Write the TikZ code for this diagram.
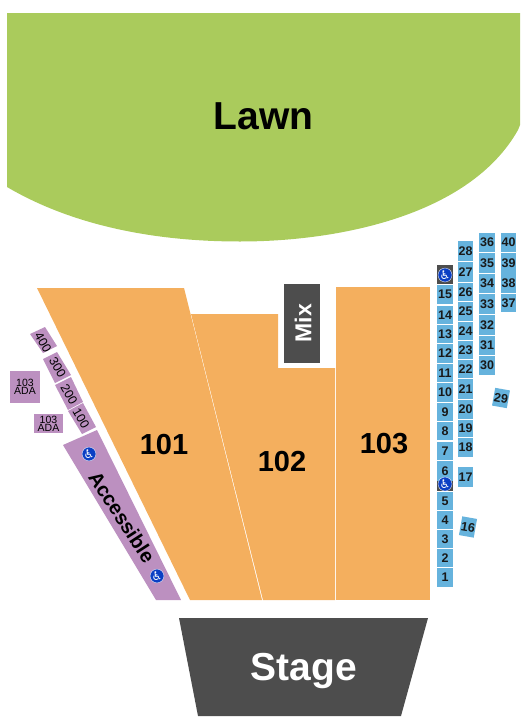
\documentclass[tikz,border=0pt]{standalone}
\usepackage{fontspec}
\setmainfont{Liberation Sans}
\newfontfamily\symfont{DejaVu Sans}
\definecolor{lawn}{HTML}{AACB5C}
\definecolor{sect}{HTML}{F4AF5E}
\definecolor{seatc}{HTML}{66B3DD}
\definecolor{purp}{HTML}{BC90C0}
\definecolor{dark}{HTML}{4D4D4D}
\definecolor{wblue}{HTML}{0B3FC4}
\tikzset{
  seatbox/.style={fill=seatc,inner sep=0pt,font=\bfseries\fontsize{12.5}{12.5}\selectfont,text=black!90},
  seclabel/.style={inner sep=0pt,font=\bfseries\fontsize{29}{29}\selectfont,text=black},
  purplabel/.style={inner sep=0pt,font=\fontsize{12.5}{12.5}\selectfont,text=black},
  adabox/.style={fill=purp,inner sep=0pt,align=center,font=\fontsize{10.5}{8}\selectfont},
  wicon/.style={circle,fill=wblue,draw=white,line width=0.3pt,inner sep=0pt,minimum size=#1,text=white,font=\symfont\fontsize{12}{12}\selectfont},
}
\newcommand{\wchair}{\symbol{"267F}}
\begin{document}
\begin{tikzpicture}[x=1pt,y=-1pt]
\useasboundingbox (0,0) rectangle (525,728);
% Lawn
\fill[lawn] (7,13) -- (520,13) -- (520,125) -- (518,130) .. controls (470,215) and (340,241.5) .. (240,241.5) .. controls (150,241.5) and (70,224) .. (7,187) -- cycle;
\node[inner sep=0pt,font=\bfseries\fontsize{39}{39}\selectfont] (lawnlabel) at (263.5,116.5) {Lawn};
% Sections
\fill[sect] (37,288) -- (184,288) -- (262,600) -- (190,600) -- cycle;
\fill[sect] (191,314) -- (278,314) -- (278,368) -- (335,368) -- (335,600) -- (263,600) -- cycle;
\fill[sect] (336,287) -- (430,287) -- (430,600) -- (336,600) -- cycle;
\node[seclabel] (s101) at (164,445) {101};
\node[seclabel] (s102) at (282,462) {102};
\node[seclabel] (s103) at (384,444) {103};
% Mix
\node[fill=dark,text=white,minimum width=36pt,minimum height=79pt,inner sep=0pt] (mixbox) at (302,323.5) {};
\node[rotate=90,text=white,inner sep=0pt,font=\bfseries\fontsize{23}{23}\selectfont] (mix) at (303,323) {Mix};
% Stage
\fill[dark] (179,618) -- (428,618) -- (401,716) -- (198,716) -- cycle;
\node[text=white,inner sep=0pt,font=\bfseries\fontsize{39}{39}\selectfont] (stage) at (304,671) {Stage};
% Left purple
\fill[purp] (30,334) -- (45,327) -- (57,346) -- (43,353) -- cycle;
\fill[purp] (43,359) -- (57,352) -- (71,375) -- (55,383) -- cycle;
\fill[purp] (55,385) -- (71,377) -- (83,402) -- (68,410) -- cycle;
\fill[purp] (68,411) -- (83,403) -- (96,427) -- (82,434) -- cycle;
\node[purplabel,rotate=-60] (p400) at (43,342) {400};
\node[purplabel,rotate=-60] (p300) at (57.5,367.5) {300};
\node[purplabel,rotate=-60] (p200) at (69,394) {200};
\node[purplabel,rotate=-60] (p100) at (81,418) {100};
\node[adabox,minimum width=30pt,minimum height=32pt] (ada1) at (25,387) {103\\ADA};
\node[adabox,minimum width=29pt,minimum height=19pt] (ada2) at (48.5,423.5) {103\\ADA};
% Accessible
\fill[purp] (63,445) -- (97,430) -- (181,600) -- (156,600) -- cycle;
\node[inner sep=0pt,rotate=-57,font=\bfseries\fontsize{20}{20}\selectfont] (acc) at (122,517) {Accessible};
\node[wicon=13pt] (w1) at (89,454) {\wchair};
\node[wicon=13pt] (w2) at (157,576) {\wchair};
% Seats
\foreach \a/\b/\t in {285/304/15,306/324/14,325/343/13,344/363/12,364/382/11,383/402/10,403/421/9,422/440/8,442/460/7,461/481/6,492/510/5,511/529/4,530/548/3,549/567/2,568/587/1}{
  \pgfmathsetmacro\c{(\a+\b)/2}\pgfmathsetmacro\h{\b-\a}
  \node[seatbox,minimum width=16pt,minimum height=\h pt] (seat\t) at (445,\c) {\t};
}
\foreach \a/\b/\t in {241/261/28,262/282/27,283/301/26,302/321/25,322/340/24,341/359/23,360/378/22,379/399/21,400/419/20,420/437/19,438/457/18,467/487/17}{
  \pgfmathsetmacro\c{(\a+\b)/2}\pgfmathsetmacro\h{\b-\a}
  \node[seatbox,minimum width=15pt,minimum height=\h pt] (seat\t) at (465.5,\c) {\t};
}
\foreach \a/\b/\t in {233/252/36,253/273/35,274/293/34,294/314/33,315/335/32,336/355/31,356/375/30}{
  \pgfmathsetmacro\c{(\a+\b)/2}\pgfmathsetmacro\h{\b-\a}
  \node[seatbox,minimum width=16pt,minimum height=\h pt] (seat\t) at (487,\c) {\t};
}
\foreach \a/\b/\t in {233/252/40,253/273/39,273/293/38,294/312/37}{
  \pgfmathsetmacro\c{(\a+\b)/2}\pgfmathsetmacro\h{\b-\a}
  \node[seatbox,minimum width=15pt,minimum height=\h pt] (seat\t) at (508.5,\c) {\t};
}
\node[seatbox,rotate=-10,minimum width=15pt,minimum height=18pt] (seat29) at (501,398) {29};
\node[seatbox,rotate=-10,minimum width=15pt,minimum height=19pt] (seat16) at (468,527) {16};
% Accessible seats
\node[fill=dark,minimum width=16pt,minimum height=19pt,inner sep=0pt] (wbox1) at (445,274.5) {};
\node[wicon=14pt] (w3) at (445,275) {\wchair};
\node[fill=dark,minimum width=16pt,minimum height=10pt,inner sep=0pt] (wbox2) at (445,486) {};
\node[wicon=14pt] (w4) at (445,484) {\wchair};
\end{tikzpicture}
\end{document}
